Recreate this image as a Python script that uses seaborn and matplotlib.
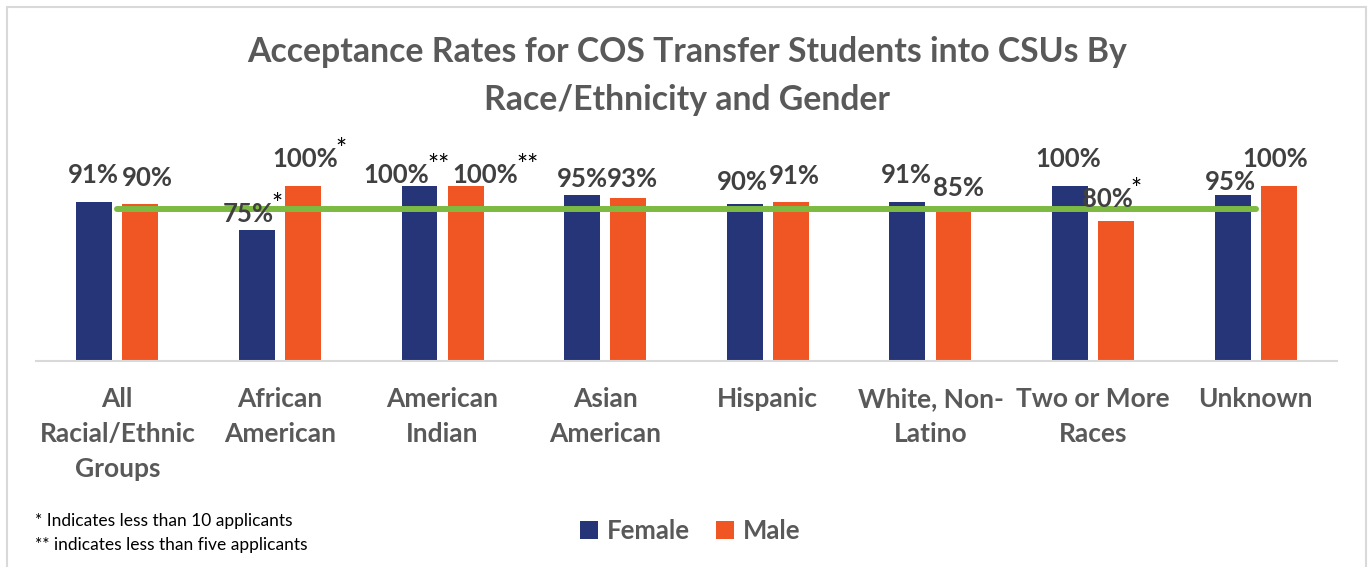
import matplotlib
matplotlib.use("Agg")
import matplotlib.pyplot as plt
from matplotlib.patches import Rectangle
import seaborn as sns
import pandas as pd

# ---------------- data ----------------
categories = ["All\nRacial/Ethnic\nGroups", "African\nAmerican", "American\nIndian",
              "Asian\nAmerican", "Hispanic", "White, Non-\nLatino",
              "Two or More\nRaces", "Unknown"]
female = [91, 75, 100, 95, 90, 91, 100, 95]
male = [90, 100, 100, 93, 91, 85, 80, 100]
female_marks = ["", "*", "**", "", "", "", "", ""]
male_marks = ["", "*", "**", "", "", "", "*", ""]
overall = [87, 87, 87, 87, 87, 87, 87, 87]
genders = ["Female", "Male"]

# label placement tweaks (pixels), mimicking the original layout
f_dx = [-1, -9, -23, 0, -2, -1, -2, -2]
f_gap = [19, 8, 3, 8, 14, 19, 19, 5]
m_dx = [7, 2, 20, 4, 4, 5, -9, -3]
m_gap = [17, 19, 3, 11, 18, 16, 14, 19]

W, H = 1369, 567
sns.set_style("white")
plt.rcParams["font.family"] = ["Lato", "DejaVu Sans"]

df = pd.DataFrame({
    "category": categories * 2,
    "gender": ["Female"] * len(categories) + ["Male"] * len(categories),
    "rate": female + male,
})

fig = plt.figure(figsize=(W / 100, H / 100), dpi=100)
ax = fig.add_axes([36 / W, (H - 361) / H, 1301 / W, 175 / H])

palette = {"Female": "#263478", "Male": "#F05624"}
sns.barplot(data=df, x="category", y="rate", hue="gender", hue_order=genders,
            order=categories, palette=palette, width=0.566, gap=0.22,
            saturation=1, linewidth=0, ax=ax, legend=True)
handles, labels = ax.get_legend_handles_labels()
ax.get_legend().remove()

sns.lineplot(x=ax.get_xticks(), y=overall, color="#7CBA42", linewidth=4.3,
             sort=False, ax=ax, solid_capstyle="round", legend=False)

ax.set_ylim(0, 100)
ax.set_xlim(-0.5, len(categories) - 0.5)
ax.set_xlabel("")
ax.set_ylabel("")
ax.set_yticks([])
for s in ["top", "right", "left"]:
    ax.spines[s].set_visible(False)
ax.spines["bottom"].set_color("#D9D9D9")
ax.spines["bottom"].set_linewidth(1.5)
ax.tick_params(axis="x", length=0, pad=19)
for t in ax.get_xticklabels():
    t.set_fontsize(19)
    t.set_fontweight("bold")
    t.set_color("#595959")
    t.set_linespacing(1.55)
    t.set_va("top")

# data labels
label_color = "#404040"
for container, dxs, gaps, marks in [(ax.containers[0], f_dx, f_gap, female_marks),
                                     (ax.containers[1], m_dx, m_gap, male_marks)]:
    for bar, dx, gap, mk in zip(container, dxs, gaps, marks):
        x = bar.get_x() + bar.get_width() / 2
        y = bar.get_height()
        t = ax.annotate(f"{y:.0f}%", xy=(x, y), xytext=(dx, gap),
                        textcoords="offset pixels", ha="center", va="baseline",
                        fontsize=18.5, fontweight="bold", color=label_color,
                        annotation_clip=False)
        if mk:
            ax.annotate(mk, xy=(1, 1), xycoords=t, xytext=(-2, 9),
                        textcoords="offset pixels", ha="left", va="top",
                        fontsize=19, color="black", annotation_clip=False)

# title
fig.text(687 / W, 1 - 76 / H,
         "Acceptance Rates for COS Transfer Students into CSUs By\nRace/Ethnicity and Gender",
         ha="center", va="center", fontsize=24.3, fontweight="bold",
         color="#595959", linespacing=1.6)

# legend
fig.legend(handles, labels, loc="center", bbox_to_anchor=(690 / W, 1 - 531 / H),
           ncol=2, frameon=False, handlelength=0.7, handleheight=0.7,
           handletextpad=0.35, columnspacing=1.0,
           prop={"size": 18.5, "weight": "bold"}, labelcolor="#595959")

# footnotes
fig.text(35 / W, 1 - 521 / H, "* Indicates less than 10 applicants",
         ha="left", va="center", fontsize=12.5, color="black")
fig.text(35 / W, 1 - 545 / H, "** indicates less than five applicants",
         ha="left", va="center", fontsize=12.5, color="black")

# chart border
fig.patches.append(Rectangle((7 / W, -0.05), (1366 - 7) / W, (H - 7) / H + 0.05,
                             transform=fig.transFigure, fill=False,
                             edgecolor="#D9D9D9", linewidth=1.5))

fig.savefig("out.png", dpi=100)
